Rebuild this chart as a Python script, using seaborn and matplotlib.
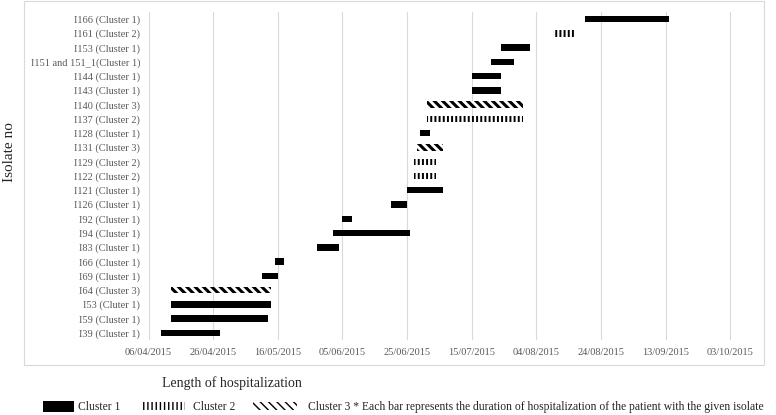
import numpy as np
import pandas as pd
import matplotlib
matplotlib.use("Agg")
import matplotlib.pyplot as plt
import matplotlib.dates as mdates
from matplotlib.patches import Patch, Rectangle
import seaborn as sns

# isolates listed top to bottom as in the chart
isolates = ["I166 (Cluster 1)", "I161 (Cluster 2)", "I153 (Cluster 1)",
            "I151 and 151_1(Cluster 1)", "I144 (Cluster 1)", "I143 (Cluster 1)",
            "I140 (Cluster 3)", "I137 (Cluster 2)", "I128 (Cluster 1)",
            "I131 (Cluster 3)", "I129 (Cluster 2)", "I122 (Cluster 2)",
            "I121 (Cluster 1)", "I126 (Cluster 1)", "I92 (Cluster 1)",
            "I94 (Cluster 1)", "I83 (Cluster 1)", "I66 (Cluster 1)",
            "I69 (Cluster 1)", "I64 (Cluster 3)", "I53 (Cluter 1)",
            "I59 (Cluster 1)", "I39 (Cluster 1)"]
clusters = [1, 2, 1, 1, 1, 1, 3, 2, 1, 3, 2, 2, 1, 1, 1, 1, 1, 1, 1, 3, 1, 1, 1]
admitted = ["19/08/2015", "09/08/2015", "24/07/2015", "21/07/2015", "15/07/2015",
            "15/07/2015", "01/07/2015", "01/07/2015", "29/06/2015", "28/06/2015",
            "27/06/2015", "27/06/2015", "25/06/2015", "20/06/2015", "05/06/2015",
            "02/06/2015", "28/05/2015", "15/05/2015", "11/05/2015", "13/04/2015",
            "13/04/2015", "13/04/2015", "10/04/2015"]
discharged = ["14/09/2015", "16/08/2015", "02/08/2015", "28/07/2015", "24/07/2015",
              "24/07/2015", "31/07/2015", "31/07/2015", "02/07/2015", "06/07/2015",
              "04/07/2015", "04/07/2015", "06/07/2015", "25/06/2015", "08/06/2015",
              "26/06/2015", "04/06/2015", "18/05/2015", "16/05/2015", "14/05/2015",
              "14/05/2015", "13/05/2015", "28/04/2015"]
tick_dates = pd.date_range("2015-04-06", "2015-10-03", freq="20D")
legend_labels = ["Cluster 1", "Cluster 2",
                 "Cluster 3 * Each bar represents the duration of hospitalization of the patient with the given isolate"]

sns.set_theme(style="white")
plt.rcParams["font.family"] = ["Liberation Serif", "DejaVu Serif"]

df = pd.DataFrame({"isolate": isolates, "cluster": clusters,
                   "start": pd.to_datetime(admitted, format="%d/%m/%Y"),
                   "end": pd.to_datetime(discharged, format="%d/%m/%Y")})
df["pos"] = np.arange(len(df))
df["days"] = (df["end"] - df["start"]).dt.days

styles = {
    1: dict(facecolor="black", hatch=None, hlw=1.0),
    2: dict(facecolor="white", hatch="||||", hlw=1.4),
    3: dict(facecolor="white", hatch="\\\\\\\\", hlw=2.2),
}

fig = plt.figure(figsize=(7.76, 4.15), dpi=100)
ax = fig.add_axes([0.1914, 0.1805, 0.7831, 0.7908])

handles = []
for c, st in styles.items():
    sub = df[df["cluster"] == c]
    with plt.rc_context({"hatch.linewidth": st["hlw"]}):
        bars = ax.barh(sub["pos"], sub["days"], left=mdates.date2num(sub["start"]),
                       height=0.45, facecolor=st["facecolor"], edgecolor="black",
                       hatch=st["hatch"], linewidth=0, zorder=3)
        h = Patch(facecolor=st["facecolor"], edgecolor="black",
                  hatch=st["hatch"], linewidth=0)
    for b in list(bars) + [h]:
        if hasattr(b, "set_hatch_linewidth"):
            b.set_hatch_linewidth(st["hlw"])
    handles.append(h)

ax.set_yticks(df["pos"], df["isolate"])
ax.set_ylim(len(df) - 0.5, -0.5)
ax.set_xlim(mdates.date2num(pd.Timestamp("2015-04-06")),
            mdates.date2num(pd.Timestamp("2015-10-11")))
ax.set_xticks(mdates.date2num(tick_dates))
ax.xaxis.set_major_formatter(mdates.DateFormatter("%d/%m/%Y"))
ax.tick_params(axis="both", length=0, labelsize=7.5, labelcolor="#595959")
ax.tick_params(axis="x", pad=6)
ax.tick_params(axis="y", pad=6)
ax.grid(axis="x", color="#d9d9d9", linewidth=0.8)
ax.grid(axis="y", visible=False)
ax.set_axisbelow(True)
sns.despine(ax=ax, left=True, bottom=True)

# chart area border
fig.add_artist(Rectangle((24 / 776, 50 / 415), 740 / 776, 364 / 415,
                         transform=fig.transFigure, fill=False,
                         edgecolor="#d9d9d9", linewidth=0.8))

fig.text(10 / 776, 1 - 152 / 415, "Isolate no", rotation=90, ha="center",
         va="center", fontsize=11, color="#262626")
fig.text(162 / 776, 1 - 383 / 415, "Length of hospitalization", ha="left",
         va="center", fontsize=10, color="#262626")

# one legend entry each, since the swatches differ in size
leg_x = [43, 143, 253]
leg_len = [2.66, 3.6, 3.77]
leg_h = [1.03, 0.6, 0.6]
leg_pad = [0.34, 0.69, 0.94]
for h, lab, x, hl, hh, tp in zip(handles, legend_labels, leg_x, leg_len, leg_h, leg_pad):
    fig.legend([h], [lab], loc="center left", bbox_to_anchor=(x / 776, 1 - 407 / 415),
               frameon=False, fontsize=8.4, handlelength=hl, handleheight=hh,
               handletextpad=tp, borderpad=0, borderaxespad=0)

fig.savefig("out.png", dpi=100)
